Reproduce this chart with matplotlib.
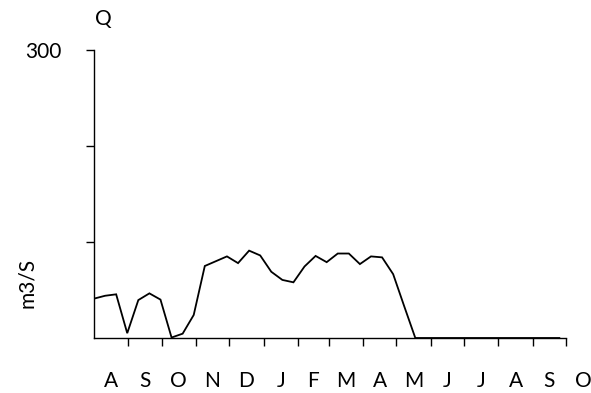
import numpy as np
import matplotlib
matplotlib.use("Agg")
import matplotlib.pyplot as plt
import matplotlib.transforms as mtransforms

plt.rcParams['font.family'] = ['Lato', 'DejaVu Sans']

# ten-day discharge values, Aug 1 -> end of Sep next year (days since Aug 1)
days = np.arange(0, 430, 10)
flow = [41, 44, 45.5, 5, 39.5, 46.5, 40, 0.5, 4.5, 24,
        75, 80, 85, 78, 91, 86, 69, 60.5, 58, 74.5,
        85.5, 79, 88, 88, 77, 85, 84, 66.5, 33, 0,
        0, 0, 0, 0, 0, 0, 0, 0, 0, 0,
        0, 0, 0]

month_len = [31, 30, 31, 30, 31, 31, 28, 31, 30, 31, 30, 31, 31, 30, 31]
month_lab = ['A', 'S', 'O', 'N', 'D', 'J', 'F', 'M', 'A', 'M', 'J', 'J', 'A', 'S', 'O']
ytick_vals = [100, 200, 300]
ytick_lab = ['', '', '300']

bounds = np.cumsum([0] + month_len)
mids = (bounds[:-1] + bounds[1:]) / 2.0

fig = plt.figure(figsize=(5.91, 3.93), dpi=100)
ax = fig.add_axes([94 / 591, 55 / 393, 472 / 591, 288 / 393])

ax.plot(days, flow, color='black', lw=1.3, solid_joinstyle='miter')

ax.set_xlim(0, bounds[14])
ax.set_ylim(0, 300)
for s in ['top', 'right']:
    ax.spines[s].set_visible(False)
for s in ['left', 'bottom']:
    ax.spines[s].set_linewidth(1.0)

ax.set_xticks(bounds[1:15])
ax.set_xticklabels([])
ax.set_yticks(ytick_vals)
ax.set_yticklabels(ytick_lab, fontsize=15)
ax.tick_params(axis='both', direction='out', length=5.5, width=1.0, color='black')
ax.tick_params(axis='y', pad=18)

trans = mtransforms.blended_transform_factory(ax.transData, ax.transAxes)
for m, lab in zip(mids, month_lab):
    ax.text(m, -0.15, lab, transform=trans, ha='center', va='center',
            fontsize=15, clip_on=False)

fig.text(103 / 591, 1 - 19 / 393, 'Q', ha='center', va='center', fontsize=15)
fig.text(27 / 591, 1 - 283 / 393, 'm3/S', ha='center', va='center',
         fontsize=15, rotation=90)

fig.savefig('out.png', dpi=100, facecolor='white')
